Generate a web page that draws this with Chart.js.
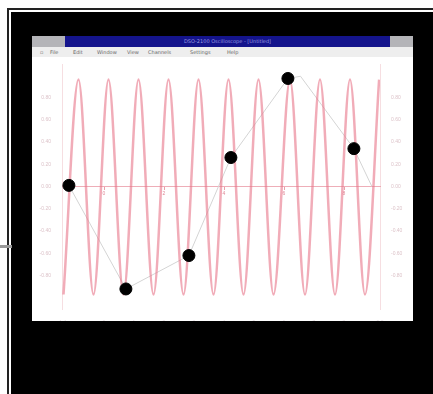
<!DOCTYPE html>
<html>
<head>
<meta charset="utf-8">
<script src="https://cdn.jsdelivr.net/npm/chart.js@4.4.0/dist/chart.umd.min.js"></script>
<style>
  body { margin:0; width:433px; height:394px; overflow:hidden; background:#fff; position:relative; font-family:"DejaVu Sans", sans-serif; }
  #outer { position:absolute; left:7px; top:8px; right:0; bottom:0; border-left:2px solid #222; border-top:2px solid #222; background:#fff; }
  #inner { position:absolute; left:11px; top:12px; right:0; bottom:0; background:#000; }
  #tick { position:absolute; left:0; top:245px; width:12px; height:3px; background:#999; }
  #win { position:absolute; left:32px; top:36px; width:381px; height:285px; background:#fff; }
  #title { position:absolute; left:0; top:0; width:381px; height:11px; background:#b4b4b8; }
  #title .bar { position:absolute; left:33px; top:0; width:325px; height:11px; background:#14148c; color:#9a9ae0; font-size:5px; line-height:11px; text-align:center; }
  #menu { position:absolute; left:0; top:11px; width:381px; height:10px; background:#eeeeee; font-size:5px; line-height:10px; color:#666; }
  #menu span { position:absolute; top:0; }
  #plot { position:absolute; left:32px; top:57px; width:381px; height:264px; }
</style>
</head>
<body>
<div id="outer"></div>
<div id="inner"></div>
<div id="tick"></div>
<div id="win">
  <div id="title"><div class="bar">DSO-2100 Oscilloscope - [Untitled]</div></div>
  <div id="menu">
    <span style="left:8px">▫</span>
    <span style="left:18px">File</span>
    <span style="left:41px">Edit</span>
    <span style="left:65px">Window</span>
    <span style="left:95px">View</span>
    <span style="left:116px">Channels</span>
    <span style="left:158px">Settings</span>
    <span style="left:195px">Help</span>
  </div>
</div>
<div id="plot"><canvas id="c" width="381" height="264"></canvas></div>
<script>
// fast signal: turning points (time in periods, volts)
waveT = [-1.35, -0.85, -0.35, 0.15, 0.65, 1.15, 1.65, 2.15, 2.65, 3.15, 3.65, 4.15, 4.65, 5.15, 5.65, 6.2, 6.7, 7.2, 7.7, 8.2, 8.7, 9.17]
waveV = [-0.97, 0.96, -0.97, 0.96, -0.97, 0.96, -0.97, 0.96, -0.97, 0.96, -0.97, 0.96, -0.97, 0.96, -0.97, 0.96, -0.97, 0.96, -0.97, 0.96, -0.97, 0.96]

// sampled points (black dots)
sampleT = [-1.17, 0.73, 2.83, 4.23, 6.13, 8.33]
sampleV = [0.01, -0.92, -0.62, 0.26, 0.97, 0.34]

// faint alias trace through the samples
aliasT = [-1.17, 0.73, 2.83, 4.23, 6.13, 6.55, 8.33, 8.93]
aliasV = [0.01, -0.92, -0.62, 0.26, 0.97, 0.99, 0.34, 0.0]

xTicks = [0, 2, 4, 6, 8]
yTicks = [-0.8, -0.6, -0.4, -0.2, 0, 0.2, 0.4, 0.6, 0.8]

pts = (xs, ys) => xs.map((x, i) => ({x: x, y: ys[i]}))
faint = '#dcc2c8'

new Chart(document.getElementById('c'), {
  type: 'line',
  data: {
    datasets: [
      {
        label: 'signal',
        data: pts(waveT, waveV),
        borderColor: 'rgba(232,116,136,0.6)',
        borderWidth: 2.5,
        pointRadius: 0,
        cubicInterpolationMode: 'monotone',
        order: 2
      },
      {
        label: 'alias',
        data: pts(aliasT, aliasV),
        borderColor: '#d4d4d4',
        borderWidth: 1,
        pointRadius: 0,
        tension: 0,
        order: 3
      },
      {
        type: 'scatter',
        label: 'samples',
        data: pts(sampleT, sampleV),
        backgroundColor: '#000',
        borderColor: '#000',
        pointRadius: 6,
        order: 0
      }
    ]
  },
  options: {
    responsive: false,
    animation: false,
    layout: { padding: { top: 3, bottom: 0, left: 0, right: 0 } },
    plugins: { legend: { display: false }, tooltip: { enabled: false } },
    scales: {
      x: {
        type: 'linear', min: -1.4, max: 9.2,
        position: { y: 0 },
        afterBuildTicks: s => { s.ticks = xTicks.map(v => ({value: v})) },
        ticks: { color: '#e08a98', font: { size: 5 }, padding: 1 },
        grid: { drawOnChartArea: false, color: '#e8a0ac', tickLength: 3 },
        border: { color: 'rgba(226,120,136,0.6)' }
      },
      x2: {
        type: 'linear', min: -1.4, max: 9.2, position: 'bottom',
        ticks: { stepSize: 1, color: '#e6dde2', font: { size: 5 } },
        grid: { display: false }, border: { display: false },
        afterFit: s => { s.height = 12 }
      },
      y: {
        min: -1.1, max: 1.1, position: 'left',
        afterBuildTicks: s => { s.ticks = yTicks.map(v => ({value: v})) },
        ticks: { color: faint, font: { size: 5 }, callback: v => v.toFixed(2) },
        grid: { display: false },
        border: { color: 'rgba(230,160,170,0.35)' },
        afterFit: s => { s.width = 30 }
      },
      y2: {
        min: -1.1, max: 1.1, position: 'right',
        afterBuildTicks: s => { s.ticks = yTicks.map(v => ({value: v})) },
        ticks: { color: faint, font: { size: 5 }, callback: v => v.toFixed(2) },
        grid: { display: false },
        border: { color: 'rgba(230,160,170,0.35)' },
        afterFit: s => { s.width = 33 }
      }
    }
  }
});
</script>
</body>
</html>
